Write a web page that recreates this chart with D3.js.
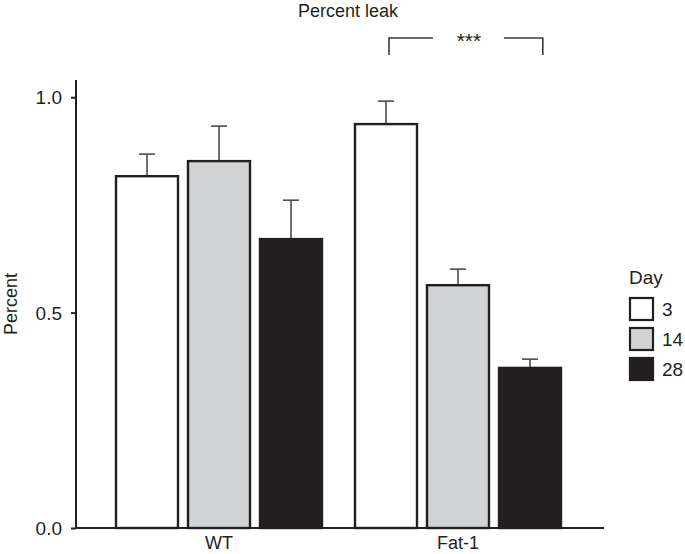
<!DOCTYPE html>
<html><head><meta charset="utf-8">
<script src="https://cdn.jsdelivr.net/npm/d3@7"></script>
<style>
body{margin:0;background:#fff;}
text{font-family:"Liberation Sans",Arial,Helvetica,sans-serif;fill:#231f20;}
</style></head>
<body><svg id="chart" width="685" height="554"></svg>
<script>
const groups = ["WT", "Fat-1"];
const days = ["3", "14", "28"];
const values = {
  "WT":    [0.819, 0.854, 0.673],
  "Fat-1": [0.940, 0.566, 0.374]
};
const errors = {
  "WT":    [0.049, 0.079, 0.088],
  "Fat-1": [0.051, 0.035, 0.018]
};
const yTicks = [0.0, 0.5, 1.0];
const fills = ["#ffffff", "#d1d3d4", "#231f20"];
const title = "Percent leak";
const yTitle = "Percent";
const legendTitle = "Day";
const sigLabel = "***";

const svg = d3.select("#chart");
const ink = "#231f20";

const y = d3.scaleLinear().domain([0, 1.04]).range([528, 80]);
const x0 = d3.scaleBand().domain(groups).range([115, 562]).paddingInner(31/239).paddingOuter(0);
const x1 = d3.scaleBand().domain(days).range([0, x0.bandwidth()]).paddingInner(8/72).paddingOuter(0);
const color = d3.scaleOrdinal().domain(days).range(fills);

const data = [];
groups.forEach(g => days.forEach((d, i) => data.push({g, d, v: values[g][i], e: errors[g][i]})));

const bars = svg.append("g");
data.forEach(r => {
  const cx = x0(r.g) + x1(r.d) + x1.bandwidth()/2;
  bars.append("line").attr("x1", cx).attr("x2", cx)
    .attr("y1", y(r.v)).attr("y2", y(r.v + r.e))
    .attr("stroke", "#4d4d4f").attr("stroke-width", 1.6);
  bars.append("line").attr("x1", cx - 8).attr("x2", cx + 8)
    .attr("y1", y(r.v + r.e)).attr("y2", y(r.v + r.e))
    .attr("stroke", "#4d4d4f").attr("stroke-width", 1.6);
});
bars.selectAll("rect").data(data).join("rect")
  .attr("x", r => x0(r.g) + x1(r.d) + 1)
  .attr("width", x1.bandwidth() - 2)
  .attr("y", r => y(r.v) + 1)
  .attr("height", r => y(0) - y(r.v) - 1)
  .attr("fill", r => color(r.d))
  .attr("stroke", ink).attr("stroke-width", 2.4);

// y axis
const yAxis = svg.append("g").attr("transform", "translate(76,0)")
  .call(d3.axisLeft(y).tickValues(yTicks).tickFormat(d3.format(".1f")).tickSize(5).tickPadding(9));
yAxis.select(".domain").attr("stroke", ink).attr("stroke-width", 2).attr("d", `M0,${y(1.04)}V${y(0)}`);
yAxis.selectAll(".tick line").attr("stroke", ink).attr("stroke-width", 2);
yAxis.selectAll(".tick text").attr("font-size", 19).attr("fill", ink)
  .attr("font-family", "Liberation Sans, Arial, sans-serif").attr("dy", "0.35em");

// x axis
const xAxisG = svg.append("g").attr("transform", `translate(0,${y(0)})`);
xAxisG.append("line").attr("x1", 76).attr("x2", 604).attr("y1", 0).attr("y2", 0)
  .attr("stroke", ink).attr("stroke-width", 2.2);
groups.forEach(g => {
  xAxisG.append("text").attr("x", x0(g) + x0.bandwidth()/2).attr("y", 21)
    .attr("text-anchor", "middle").attr("font-size", 18).text(g);
});

// y title
svg.append("text").attr("transform", `translate(17,${(y(0)+y(1.04))/2}) rotate(-90)`)
  .attr("text-anchor", "middle").attr("font-size", 18).text(yTitle);

// title
svg.append("text").attr("x", 348).attr("y", 17).attr("text-anchor", "middle")
  .attr("font-size", 18).text(title);

// significance bracket
const bl = x0("Fat-1") + x1("3") + x1.bandwidth()/2 + 3;
const br = x0("Fat-1") + x1("28") + x1.bandwidth()*0.7;
const bm = (bl + br)/2;
const by = 38, bb = 55;
const br_g = svg.append("g").attr("stroke", "#3a3a3c").attr("stroke-width", 1.6).attr("fill", "none");
br_g.append("path").attr("d", `M${bl},${bb}V${by}H${bm - 33}`);
br_g.append("path").attr("d", `M${bm + 38},${by}H${br}V${bb}`);
svg.append("text").attr("x", bm + 3).attr("y", 48).attr("text-anchor", "middle")
  .attr("font-size", 21).text(sigLabel);

// legend
const lg = svg.append("g").attr("transform", "translate(629,0)");
lg.append("text").attr("x", 0).attr("y", 284).attr("font-size", 19).text(legendTitle);
days.forEach((d, i) => {
  const top = 298 + i * 30;
  lg.append("rect").attr("x", 1).attr("y", top).attr("width", 23).attr("height", 22)
    .attr("fill", color(d)).attr("stroke", ink).attr("stroke-width", 2.2);
  lg.append("text").attr("x", 33).attr("y", top + 11).attr("dy", "0.35em")
    .attr("font-size", 19).text(d);
});
</script></body></html>
